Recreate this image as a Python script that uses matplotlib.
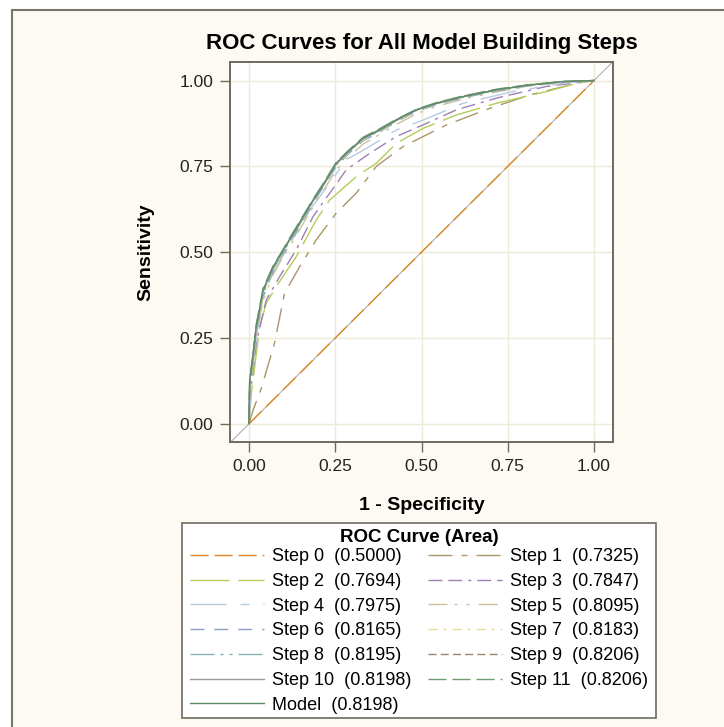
import matplotlib
matplotlib.use('Agg')
import matplotlib.pyplot as plt
from matplotlib.patches import Rectangle

plt.rcParams['font.family'] = ['Liberation Sans', 'DejaVu Sans']
plt.rcParams['lines.scale_dashes'] = False

# ROC curves (1 - specificity, sensitivity)
step0_fpr = [0.0, 1.0]
step0_tpr = [0.0, 1.0]

step1_fpr = [0.0, 0.012, 0.036, 0.074, 0.103, 0.147, 0.195, 0.253, 0.311, 0.369, 0.447, 0.573, 0.698, 0.814, 0.950, 1.0]
step1_tpr = [0.0, 0.040, 0.104, 0.235, 0.380, 0.458, 0.536, 0.614, 0.672, 0.750, 0.808, 0.871, 0.919, 0.958, 0.992, 1.0]

step2_fpr = [0.0, 0.007, 0.031, 0.050, 0.079, 0.137, 0.195, 0.234, 0.311, 0.369, 0.427, 0.505, 0.602, 0.718, 0.863, 0.950, 1.0]
step2_tpr = [0.0, 0.089, 0.283, 0.351, 0.400, 0.487, 0.594, 0.652, 0.720, 0.759, 0.817, 0.861, 0.900, 0.934, 0.968, 0.992, 1.0]

step3_fpr = [0.0, 0.004, 0.021, 0.050, 0.089, 0.137, 0.186, 0.234, 0.282, 0.350, 0.427, 0.505, 0.602, 0.718, 0.863, 1.0]
step3_tpr = [0.0, 0.089, 0.235, 0.361, 0.429, 0.507, 0.604, 0.672, 0.740, 0.788, 0.837, 0.871, 0.915, 0.949, 0.983, 1.0]

step4_fpr = [0.0, 0.012, 0.041, 0.079, 0.127, 0.176, 0.234, 0.282, 0.350, 0.427, 0.505, 0.621, 0.766, 0.911, 1.0]
step4_tpr = [0.0, 0.186, 0.380, 0.458, 0.536, 0.623, 0.701, 0.769, 0.808, 0.856, 0.885, 0.934, 0.968, 0.992, 1.0]

fpr_grid = [0.0, 0.002, 0.012, 0.021, 0.041, 0.070, 0.094, 0.123, 0.152, 0.186, 0.215, 0.253,
            0.292, 0.331, 0.379, 0.427, 0.485, 0.544, 0.621, 0.718, 0.814, 0.911, 1.0]
step5_tpr = [0.0, 0.09, 0.17, 0.25, 0.36, 0.435, 0.478, 0.525, 0.575, 0.632, 0.678, 0.74,
             0.78, 0.815, 0.843, 0.872, 0.903, 0.925, 0.946, 0.967, 0.984, 0.995, 1.0]
step6_tpr = [0.0, 0.10, 0.18, 0.265, 0.37, 0.445, 0.487, 0.535, 0.585, 0.643, 0.69, 0.75,
             0.79, 0.825, 0.85, 0.88, 0.91, 0.93, 0.95, 0.97, 0.985, 0.996, 1.0]
step7_tpr = [0.0, 0.10, 0.19, 0.27, 0.375, 0.45, 0.49, 0.54, 0.59, 0.65, 0.695, 0.755,
             0.793, 0.828, 0.852, 0.882, 0.912, 0.932, 0.952, 0.972, 0.986, 0.996, 1.0]
step8_tpr = [0.0, 0.115, 0.195, 0.275, 0.38, 0.452, 0.492, 0.54, 0.59, 0.648, 0.694, 0.755,
             0.795, 0.83, 0.855, 0.884, 0.913, 0.933, 0.952, 0.972, 0.987, 0.997, 1.0]
step9_tpr = [0.0, 0.11, 0.20, 0.28, 0.385, 0.455, 0.495, 0.545, 0.595, 0.65, 0.697, 0.757,
             0.797, 0.832, 0.858, 0.886, 0.914, 0.935, 0.955, 0.974, 0.988, 0.997, 1.0]
step10_tpr = [0.0, 0.125, 0.204, 0.281, 0.388, 0.457, 0.496, 0.545, 0.593, 0.651, 0.695, 0.758,
              0.797, 0.831, 0.855, 0.884, 0.914, 0.934, 0.953, 0.973, 0.987, 0.997, 1.0]
step11_tpr = [0.0, 0.12, 0.20, 0.29, 0.395, 0.46, 0.50, 0.55, 0.598, 0.655, 0.70, 0.762,
              0.80, 0.835, 0.86, 0.887, 0.916, 0.936, 0.955, 0.975, 0.988, 0.997, 1.0]
model_tpr = [0.0, 0.128, 0.206, 0.283, 0.39, 0.458, 0.497, 0.546, 0.594, 0.652, 0.696, 0.759,
             0.798, 0.832, 0.856, 0.885, 0.915, 0.934, 0.953, 0.973, 0.987, 0.997, 1.0]

names = ['Step 0', 'Step 1', 'Step 2', 'Step 3', 'Step 4', 'Step 5', 'Step 6',
         'Step 7', 'Step 8', 'Step 9', 'Step 10', 'Step 11', 'Model']
areas = [0.5000, 0.7325, 0.7694, 0.7847, 0.7975, 0.8095, 0.8165,
         0.8183, 0.8195, 0.8206, 0.8198, 0.8206, 0.8198]
xs = [step0_fpr, step1_fpr, step2_fpr, step3_fpr, step4_fpr] + [fpr_grid] * 8
ys = [step0_tpr, step1_tpr, step2_tpr, step3_tpr, step4_tpr, step5_tpr, step6_tpr,
      step7_tpr, step8_tpr, step9_tpr, step10_tpr, step11_tpr, model_tpr]

colors = ['#DE8A22', '#AC9568', '#B4CC58', '#A07EB6', '#B6CAE4', '#CBC39E', '#8A9FC2',
          '#EADC9C', '#84B2B6', '#978866', '#9A9A9A', '#6C9E70', '#5E8C68']
dashes = [(13, 4.3), (17.3, 6.5, 4.3, 6.5), (28, 6.5), (10, 4.3, 10, 4.3, 2.2, 4.3),
          (26, 10, 6.5, 10), (13.7, 5, 2.2, 6.5, 2.2, 6.5), (10, 7.2), (6.5, 4.3, 2.2, 4.3),
          (17.3, 4.3, 2.2, 4.3, 2.2, 4.3), (5.8, 3), None, (13, 4.3), None]

W, H = 724, 727
fig = plt.figure(figsize=(W / 100, H / 100), dpi=100, facecolor='white')
fig.patches.append(Rectangle((12 / W, -0.05), 1.1, 1 - 10 / H + 0.05, transform=fig.transFigure,
                             facecolor='#FCFAF2', edgecolor='#7A7668', linewidth=1.5, zorder=-10))

frame = '#6E6A5E'
ax = fig.add_axes([230 / W, 1 - 442 / H, 383 / W, 380 / H])
ax.set_facecolor('white')
ax.set_xlim(-0.055, 1.055)
ax.set_ylim(-0.053, 1.054)
ticks = [0.0, 0.25, 0.5, 0.75, 1.0]
ax.set_xticks(ticks)
ax.set_yticks(ticks)
ax.set_xticklabels(['%.2f' % t for t in ticks])
ax.set_yticklabels(['%.2f' % t for t in ticks])
ax.grid(True, color='#EEEAD8', linewidth=1.0)
ax.set_axisbelow(True)
for s in ax.spines.values():
    s.set_color(frame)
    s.set_linewidth(1.4)
ax.tick_params(colors=frame, labelcolor='#222222', length=7, width=1.0, labelsize=12.5, pad=5)

# reference diagonal across the whole plot area
ax.plot([-0.1, 1.1], [-0.1, 1.1], color='#B0B0B0', linewidth=0.8, zorder=1)

handles = []
for i in range(len(names)):
    ln, = ax.plot(xs[i], ys[i], color=colors[i], linewidth=1.0, zorder=2 + i,
                  label='%s  (%.4f)' % (names[i], areas[i]))
    if dashes[i] is not None:
        ln.set_dashes(dashes[i])
    handles.append(ln)

ax.set_title('ROC Curves for All Model Building Steps', fontsize=16, fontweight='bold', pad=9)
ax.set_xlabel('1 - Specificity', fontsize=14, fontweight='bold', labelpad=17)
ax.set_ylabel('Sensitivity', fontsize=14, fontweight='bold', labelpad=18)

# legend box with its own frame and heading
fig.patches.append(Rectangle((182 / W, 1 - 718 / H), 474 / W, 195 / H, transform=fig.transFigure,
                             facecolor='white', edgecolor=frame, linewidth=1.2, zorder=1))
fig.text(419 / W, 1 - 537 / H, 'ROC Curve (Area)', ha='center', va='center',
         fontsize=13.5, fontweight='bold')

# row-major order like the original legend
order = [0, 2, 4, 6, 8, 10, 12, 1, 3, 5, 7, 9, 11]
leg = fig.legend([handles[i] for i in order], [handles[i].get_label() for i in order],
                 loc='upper left', bbox_to_anchor=(182 / W, 1 - 540 / H), ncol=2,
                 fontsize=13, handlelength=4.1, handletextpad=0.45, columnspacing=0.9,
                 labelspacing=0.43, borderpad=0.45, borderaxespad=0, frameon=False)

fig.savefig('out.png', dpi=100, facecolor=fig.get_facecolor())
